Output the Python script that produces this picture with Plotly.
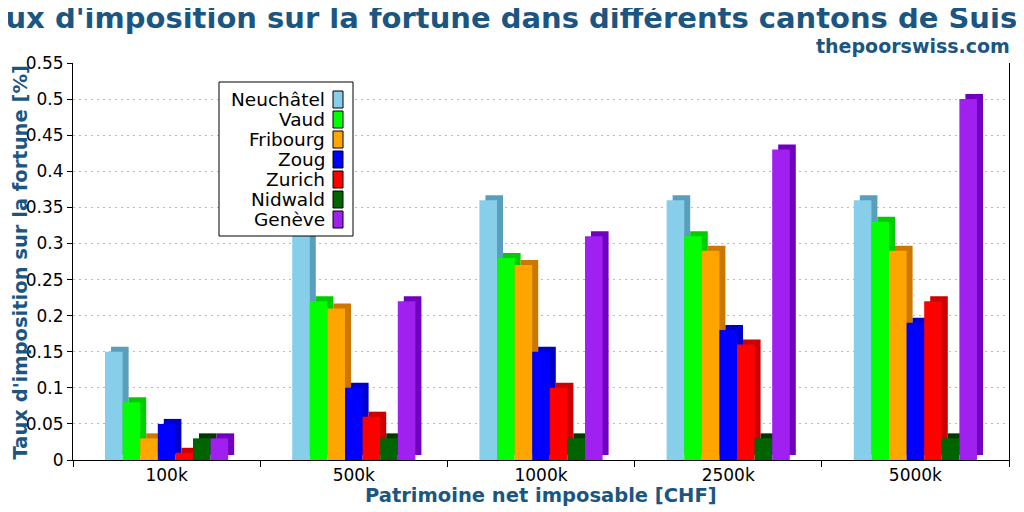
import plotly.graph_objects as go

# données
patrimoines = ["100k", "500k", "1000k", "2500k", "5000k"]
cantons = ["Neuchâtel", "Vaud", "Fribourg", "Zoug", "Zurich", "Nidwald", "Genève"]
neuchatel = [0.15, 0.33, 0.36, 0.36, 0.36]
vaud = [0.08, 0.22, 0.28, 0.31, 0.33]
fribourg = [0.03, 0.21, 0.27, 0.29, 0.29]
zoug = [0.05, 0.10, 0.15, 0.18, 0.19]
zurich = [0.01, 0.06, 0.10, 0.16, 0.22]
nidwald = [0.03, 0.03, 0.03, 0.03, 0.03]
geneve = [0.03, 0.22, 0.31, 0.43, 0.50]
y_ticks = [0, 0.05, 0.1, 0.15, 0.2, 0.25, 0.3, 0.35, 0.4, 0.45, 0.5, 0.55]
y_labels = ["0", "0.05", "0.1", "0.15", "0.2", "0.25", "0.3", "0.35", "0.4", "0.45", "0.5", "0.55"]

series = [neuchatel, vaud, fribourg, zoug, zurich, nidwald, geneve]
couleurs = ["#87CEEB", "#00FF00", "#FFA500", "#0000FF", "#FF0000", "#006400", "#A020F0"]
ombres = ["#599FBC", "#00CC00", "#CC7700", "#0000CC", "#CC0000", "#003800", "#7000C0"]

bleu = "#1B5683"
police = "DejaVu Sans"

# géométrie en pixels de la fenêtre ; la page a une marge de 8 px
DEC = 8
L, R, T, B = 73 - DEC, 1009 - DEC, 63 - DEC, 460 - DEC
largeur = 0.094      # largeur d'une barre en unités de catégorie
dx = 6 / ((R - L) / 5)
dy = 5 / ((B - T) / 0.55)
x = list(range(len(patrimoines)))

fig = go.Figure()
for j, (nom, vals) in enumerate(zip(cantons, series)):
    off = -largeur * len(series) / 2 + j * largeur
    # face arrière (effet 3D)
    fig.add_trace(go.Bar(x=x, y=vals, base=dy, offset=off + dx, width=largeur,
                         marker=dict(color=ombres[j], line=dict(width=0)),
                         showlegend=False, hoverinfo="skip"))
    fig.add_trace(go.Bar(x=x, y=vals, offset=off, width=largeur, name=nom,
                         marker=dict(color=couleurs[j], line=dict(width=0)),
                         showlegend=False))


def px(v):
    return (v - DEC - L) / (R - L)


def py(v):
    return (B - (v - DEC)) / (B - T)


# légende manuelle (texte à gauche, carré à droite)
shapes = [dict(type="rect", xref="paper", yref="paper", x0=px(219), x1=px(353),
               y0=py(236), y1=py(82), fillcolor="white",
               line=dict(color="black", width=1), layer="above")]
annotations = []
for i, nom in enumerate(cantons):
    yc = 99.5 + 20 * i
    shapes.append(dict(type="rect", xref="paper", yref="paper", x0=px(333), x1=px(343),
                       y0=py(yc + 8.5), y1=py(yc - 8.5), fillcolor=couleurs[i],
                       line=dict(color="black", width=1), layer="above"))
    annotations.append(dict(text=nom, xref="paper", yref="paper", x=px(327), y=py(yc),
                            xanchor="right", yanchor="middle", showarrow=False,
                            font=dict(family=police, size=18.5, color="black")))

annotations.append(dict(text="<b>thepoorswiss.com</b>", xref="paper", yref="paper",
                        x=px(1012), y=py(46), xanchor="right", yanchor="middle",
                        showarrow=False, font=dict(family=police, size=19, color=bleu)))
annotations.append(dict(text="<b>Taux d'imposition sur la fortune [%]</b>", xref="paper",
                        yref="paper", x=px(19.5), y=py(263), xanchor="center", yanchor="middle",
                        textangle=-90, showarrow=False,
                        font=dict(family=police, size=19.5, color=bleu)))
annotations.append(dict(text="<b>Patrimoine net imposable [CHF]</b>", xref="paper",
                        yref="paper", x=px(541), y=py(495), xanchor="center", yanchor="middle",
                        showarrow=False, font=dict(family=police, size=19.5, color=bleu)))

fig.update_layout(
    width=1024, height=512,
    margin=dict(l=L, r=1024 - R, t=T, b=512 - B, autoexpand=False),
    paper_bgcolor="white", plot_bgcolor="white",
    barmode="overlay",
    title=dict(text="<b>Taux d'imposition sur la fortune dans différents cantons de Suisse</b>",
               x=(512 - DEC) / 1024, xanchor="center", y=1 - 9.5 / 512, yanchor="middle",
               yref="container", font=dict(family=police, size=29, color=bleu)),
    font=dict(family=police, size=17, color="black"),
    shapes=shapes, annotations=annotations,
)
fig.update_xaxes(
    range=[-0.5, len(patrimoines) - 0.5], tickvals=x, ticktext=patrimoines, ticks="",
    showgrid=False, zeroline=False, showline=True, linecolor="black", linewidth=1,
    minor=dict(tickvals=[v - 0.5 for v in range(len(patrimoines) + 1)], ticks="outside",
               ticklen=6, tickcolor="black", showgrid=False),
    automargin=False, tickfont=dict(size=17),
)
fig.update_yaxes(
    range=[0, 0.55], tickvals=y_ticks, ticktext=y_labels, ticks="outside", ticklen=5,
    tickcolor="black", showline=True, mirror=True, linecolor="black", linewidth=1,
    showgrid=True, gridcolor="#BBBBBB", griddash="2px,4px", gridwidth=1, zeroline=False,
    automargin=False, tickfont=dict(size=17),
)

fig.write_html("out.html")
